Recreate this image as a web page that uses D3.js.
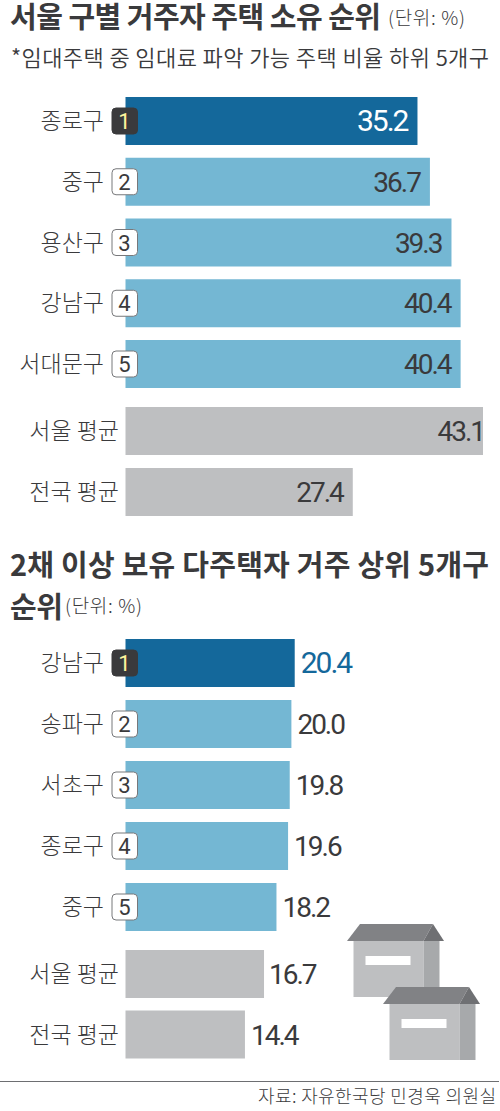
<!DOCTYPE html>
<html><head><meta charset="utf-8">
<script src="https://cdnjs.cloudflare.com/ajax/libs/d3/7.8.5/d3.min.js"></script>
<style>
html,body{margin:0;padding:0;background:#fff}
svg{display:block}
text{font-family:"Noto Sans CJK KR","Noto Sans",sans-serif;fill:#3a3a3c}
</style></head><body><svg id="c" width="500" height="1111"></svg>
<script>
const ownCats=["종로구","중구","용산구","강남구","서대문구"];
const ownVals=[35.2,36.7,39.3,40.4,40.4];
const ownAvgCats=["서울 평균","전국 평균"];
const ownAvgVals=[43.1,27.4];
const multiCats=["강남구","송파구","서초구","종로구","중구"];
const multiVals=[20.4,20.0,19.8,19.6,18.2];
const multiAvgCats=["서울 평균","전국 평균"];
const multiAvgVals=[16.7,14.4];
const ranks=[1,2,3,4,5];

const svg=d3.select("#c");
const x=d3.scaleLinear().domain([0,43.1]).range([125.5,483]);
const C={dark:"#14689b",light:"#74b7d3",grey:"#bebfc1",ink:"#3a3a3c"};
const BAR=48;

function title(t,px,py,size,weight,len){
  const e=svg.append("text").attr("x",px).attr("y",py).attr("font-size",size).attr("font-weight",weight).text(t);
  if(len) e.attr("textLength",len).attr("lengthAdjust","spacing");
  return e;
}
title("서울 구별 거주자 주택 소유 순위",10,28,29,700,371);
title("(단위: %)",388,25,19,300,77);
title("*임대주택 중 임대료 파악 가능 주택 비율 하위 5개구",11,66,22,350,478);
title("2채 이상 보유 다주택자 거주 상위 5개구",10,576,29,700,479);
title("순위",10,618,29,700,53);
title("(단위: %)",65,613,19,300,77);

function panel(cats,vals,avgCats,avgVals,top,step,avgTop,avgStep,outside,avgPad){
  const y=d3.scaleBand().domain(cats).range([top,top+step*cats.length]).paddingInner(0).align(0);
  const yA=d3.scaleBand().domain(avgCats).range([avgTop,avgTop+avgStep*avgCats.length]).align(0);
  const g=svg.append("g");
  const row=g.selectAll("g.row").data(cats.map((c,i)=>({c,v:vals[i],r:ranks[i],i}))).join("g").attr("class","row");
  row.append("rect").attr("x",x(0)).attr("y",d=>y(d.c)).attr("width",d=>x(d.v)-x(0)).attr("height",BAR)
    .attr("fill",d=>d.i===0?C.dark:C.light);
  row.append("text").attr("x",104).attr("y",d=>y(d.c)+BAR/2+8).attr("text-anchor","end").attr("font-size",23).attr("font-weight",300).text(d=>d.c);
  row.append("rect").attr("x",112).attr("y",d=>y(d.c)+BAR/2-13).attr("width",25.5).attr("height",26).attr("rx",4)
    .attr("fill",d=>d.i===0?"#3a3a3c":"#fff").attr("stroke",d=>d.i===0?"#3a3a3c":"#77787b").attr("stroke-width",1);
  row.append("text").attr("x",124.5).attr("y",d=>y(d.c)+BAR/2+8).attr("text-anchor","middle").attr("font-size",22).attr("font-weight",400)
    .style("font-family","Roboto").style("fill",d=>d.i===0?"#fff59d":C.ink).text(d=>d.r);
  row.append("text")
    .attr("x",d=>outside?x(d.v)+6:x(d.v)-10)
    .attr("y",d=>y(d.c)+BAR/2+10)
    .attr("text-anchor",outside?"start":"end").attr("font-size",d=>d.i===0?30:28).attr("font-weight",400).attr("letter-spacing",-2)
    .style("font-family","Roboto").style("fill",d=>d.i===0?(outside?C.dark:"#fff"):C.ink).text(d=>d.v.toFixed(1));
  const av=g.selectAll("g.avg").data(avgCats.map((c,i)=>({c,v:avgVals[i],i}))).join("g").attr("class","avg");
  av.append("rect").attr("x",x(0)).attr("y",d=>yA(d.c)).attr("width",d=>x(d.v)-x(0)).attr("height",BAR).attr("fill",C.grey);
  av.append("text").attr("x",119).attr("y",d=>yA(d.c)+BAR/2+8).attr("text-anchor","end").attr("font-size",23).attr("font-weight",300).text(d=>d.c);
  av.append("text")
    .attr("x",d=>x(d.v)+avgPad[d.i])
    .attr("y",d=>yA(d.c)+BAR/2+10).attr("text-anchor",outside?"start":"end").attr("font-size",28).attr("font-weight",400).attr("letter-spacing",-2)
    .style("font-family","Roboto").text(d=>d.v.toFixed(1));
}
panel(ownCats,ownVals,ownAvgCats,ownAvgVals,97,60.75,407,61,false,[1,-10]);
panel(multiCats,multiVals,multiAvgCats,multiAvgVals,639,61,950,60.5,true,[5,6]);

function house(dx,dy){
  const g=svg.append("g").attr("transform",`translate(${dx},${dy})`);
  g.append("rect").attr("x",6.5).attr("y",17).attr("width",70).attr("height",56).attr("fill","#bebfc1");
  g.append("rect").attr("x",76.5).attr("y",17).attr("width",16).attr("height",56).attr("fill","#a7a9ab");
  g.append("polygon").attr("points","13,0 86,0 76.5,17 0,17").attr("fill","#818285");
  g.append("polygon").attr("points","86,0 97,17 76.5,17").attr("fill","#6f7073");
  g.append("rect").attr("x",18.5).attr("y",32).attr("width",45).attr("height",9).attr("fill","#fff");
}
house(347,924);
house(383,987);

svg.append("line").attr("x1",0).attr("x2",499).attr("y1",1081.5).attr("y2",1081.5).attr("stroke","#6d6e71").attr("stroke-width",1);
svg.append("text").attr("x",496).attr("y",1103).attr("text-anchor","end").attr("font-size",18).attr("font-weight",300).attr("textLength",238).text("자료: 자유한국당 민경욱 의원실");
</script></body></html>
